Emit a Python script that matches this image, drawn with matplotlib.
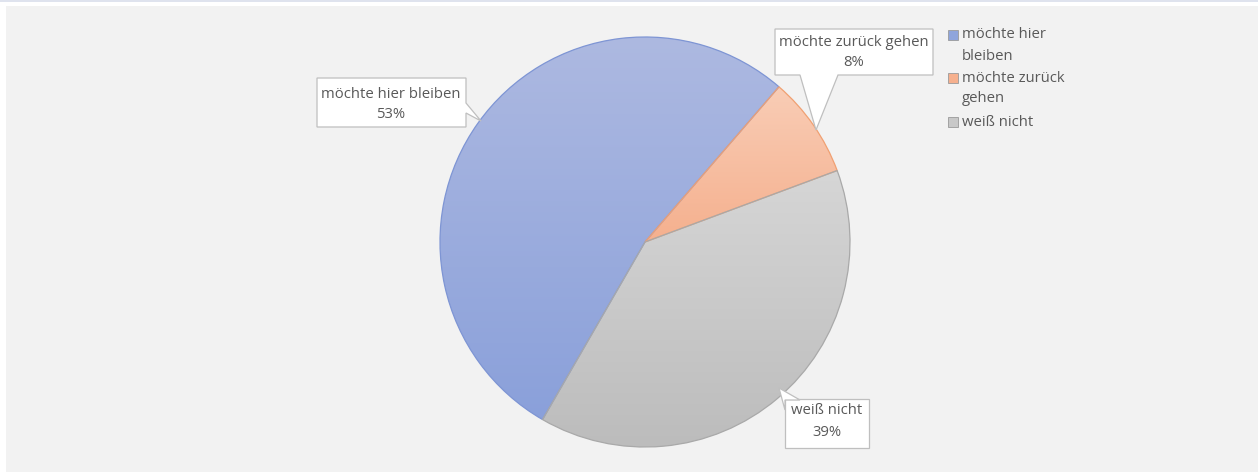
import numpy as np
import matplotlib
matplotlib.use("Agg")
import matplotlib.pyplot as plt
from matplotlib.patches import Rectangle, Polygon
from matplotlib.colors import LinearSegmentedColormap

# ---- data ----
categories = ["möchte hier bleiben", "möchte zurück gehen", "weiß nicht"]
legend_labels = ["möchte hier\nbleiben", "möchte zurück\ngehen", "weiß nicht"]
values = [53, 8, 39]

# gradient colours (top -> bottom)
grad_top = ["#adb9e1", "#f9cdb6", "#d6d6d6"]
grad_bot = ["#8aa0da", "#f5b08e", "#bcbcbc"]
edge_cols = ["#7e95d4", "#f0a072", "#a9a9a9"]
legend_cols = ["#8fa5dc", "#f6b08e", "#c8c8c8"]

W, H = 1258, 472
fig = plt.figure(figsize=(W / 100, H / 100), dpi=100)
fig.patch.set_facecolor("white")
ax = fig.add_axes([0, 0, 1, 1])
ax.set_axis_off()

def Y(y):  # pixel row -> data y
    return H - y

plt.rcParams['font.family'] = ['Open Sans', 'DejaVu Sans']

# background panel and top line
ax.add_patch(Rectangle((6, 0), W - 6, Y(6), facecolor="#f2f2f2", edgecolor="none", zorder=0))
ax.add_patch(Rectangle((0, Y(1.5)), W, 1.5, facecolor="#dfe3ee", edgecolor="none", zorder=0))

cx, cy, R = 645, Y(242), 205
wedges, _ = ax.pie(values, startangle=-120, counterclock=False,
                   center=(cx, cy), radius=R, frame=True,
                   wedgeprops=dict(linewidth=0.9))
for w, c in zip(wedges, edge_cols):
    w.set_facecolor("none")
    w.set_edgecolor(c)
    w.set_zorder(3)

grad = np.linspace(0, 1, 256).reshape(-1, 1)
for w, t, b in zip(wedges, grad_top, grad_bot):
    ext = w.get_path().get_extents()
    cmap = LinearSegmentedColormap.from_list("g", [b, t])
    im = ax.imshow(grad, cmap=cmap, origin="lower", aspect="auto",
                   extent=(ext.x0, ext.x1, ext.y0, ext.y1), zorder=2,
                   interpolation="bilinear")
    im.set_clip_path(w)

# callouts
def callout(pts, zorder=5):
    ax.add_patch(Polygon([(x, Y(y)) for x, y in pts], closed=True,
                         facecolor="white", edgecolor="#bfbfbf", lw=0.9, zorder=zorder))

callout([(317, 78), (466, 78), (466, 103), (481, 121), (466, 113), (466, 127), (317, 127)])
callout([(775, 29), (933, 29), (933, 75), (838, 75), (816, 130), (800, 75), (775, 75)])
callout([(785, 400), (800, 400), (779, 388), (785, 410)])
callout([(785, 399), (869, 399), (869, 448), (785, 448)], zorder=4)

txt_col = "#595959"
fs = 10.7
label_pos = [(391, 95, 115), (854, 42, 62), (827, 411, 432)]
for cat, v, (x, y1, y2) in zip(categories, values, label_pos):
    ax.text(x, Y(y1), cat, ha="center", va="center", fontsize=fs, color=txt_col, zorder=6)
    ax.text(x, Y(y2), f"{v}%", ha="center", va="center", fontsize=fs, color=txt_col, zorder=6)

# legend
leg_y = [35, 78, 122]
for lab, col, y in zip(legend_labels, legend_cols, leg_y):
    ax.add_patch(Rectangle((948, Y(y + 5)), 10, 10, facecolor=col,
                           edgecolor="#9a9a9a", lw=0.6, zorder=5))
    for i, ln in enumerate(lab.split("\n")):
        ax.text(962, Y(y + i * 21), ln, ha="left", va="center", fontsize=fs,
                color=txt_col, zorder=6)

ax.set_xlim(0, W)
ax.set_ylim(0, H)
ax.set_aspect("auto")
ax.set_axis_off()
fig.savefig("out.png", dpi=100, facecolor="white")
